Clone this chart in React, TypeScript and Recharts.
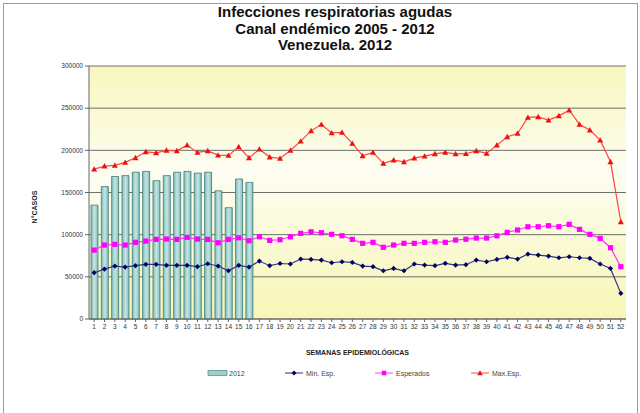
import {
  ComposedChart,
  Bar,
  Line,
  XAxis,
  YAxis,
  CartesianGrid,
} from "recharts";

const weeks = [
  "1", "2", "3", "4", "5", "6", "7", "8", "9", "10", "11", "12", "13",
  "14", "15", "16", "17", "18", "19", "20", "21", "22", "23", "24", "25", "26",
  "27", "28", "29", "30", "31", "32", "33", "34", "35", "36", "37", "38", "39",
  "40", "41", "42", "43", "44", "45", "46", "47", "48", "49", "50", "51", "52",
];

const cases2012 = [
  135000, 157000, 169000, 170000, 174000, 175000, 164000, 170000, 174000, 175000,
  173000, 174000, 152000, 132000, 166000, 162000,
];

const minEsp = [
  54900, 59200, 62800, 61600, 63200, 64800, 64800, 63600, 63600, 63600, 62000, 65500,
  62800, 57200, 63600, 61600, 68700, 63200, 65800, 65200, 71100, 70700, 69900, 66700,
  67900, 67100, 62800, 62000, 57200, 60000, 57200, 65200, 64000, 63200, 66000, 64000,
  64400, 69900, 67900, 70700, 73100, 71100, 77000, 75800, 74600, 72600, 73800, 72600,
  71900, 65200, 60000, 30400,
];

const expected = [
  81700, 87700, 88500, 87700, 90900, 92400, 94400, 94800, 94400, 96800, 94800, 94400,
  90400, 94400, 96300, 92800, 97500, 93200, 94000, 97500, 101500, 103400, 102300, 100400,
  98700, 94400, 89700, 90900, 85000, 87700, 89700, 89700, 90900, 91600, 90900, 93600,
  94600, 96000, 96000, 98700, 102700, 105500, 109400, 109400, 110600, 109400, 112200, 106300,
  100400, 95600, 84500, 62000,
];

const maxEsp = [
  177700, 181300, 182100, 185700, 191100, 198200, 197000, 200000, 199400, 206200, 197500, 199400,
  194300, 194000, 204200, 191100, 201400, 192000, 190400, 199900, 210900, 223100, 230700, 220700,
  221200, 208200, 193500, 197500, 184500, 188400, 186400, 190800, 193100, 195900, 197500, 195900,
  196000, 199400, 196300, 206200, 216000, 220000, 239000, 239700, 235800, 240900, 247600, 230700,
  224000, 212100, 186400, 115300,
];

const yTicks = [0, 50000, 100000, 150000, 200000, 250000, 300000];

const chartData = weeks.map((w, i) => ({
  week: w,
  cases: cases2012[i] ?? null,
  min: minEsp[i],
  exp: expected[i],
  max: maxEsp[i],
}));

const FONT = "Arial, 'Liberation Sans', sans-serif";

const Diamond = (props: any) => {
  const { cx, cy, index } = props;
  if (cx == null || cy == null) return <g key={index} />;
  const r = 2.6;
  return (
    <polygon
      key={index}
      points={`${cx},${cy - r} ${cx + r},${cy} ${cx},${cy + r} ${cx - r},${cy}`}
      fill="#000066"
    />
  );
};

const Square = (props: any) => {
  const { cx, cy, index } = props;
  if (cx == null || cy == null) return <g key={index} />;
  const s = 2.6;
  return <rect key={index} x={cx - s} y={cy - s} width={s * 2} height={s * 2} fill="#ff00ff" />;
};

const Triangle = (props: any) => {
  const { cx, cy, index } = props;
  if (cx == null || cy == null) return <g key={index} />;
  const r = 3;
  return (
    <polygon
      key={index}
      points={`${cx},${cy - r} ${cx + r},${cy + r * 0.8} ${cx - r},${cy + r * 0.8}`}
      fill="#ee1111"
    />
  );
};

function ChartLegend() {
  const item = (x: number, label: string, kind: string) => {
    let swatch;
    if (kind === "bar") {
      swatch = <rect x={x} y={-2.5} width={19} height={5} fill="#9ccfcc" stroke="#4d8a88" strokeWidth={0.7} />;
    } else {
      const color = kind === "min" ? "#2a2a80" : kind === "exp" ? "#ff44ff" : "#ff5050";
      const cx = x + 9;
      swatch = (
        <g>
          <line x1={x} y1={0} x2={x + 18} y2={0} stroke={color} strokeWidth={1} />
          {kind === "min" && <polygon points={`${cx},-2.5 ${cx + 2.5},0 ${cx},2.5 ${cx - 2.5},0`} fill="#000066" />}
          {kind === "exp" && <rect x={cx - 2.3} y={-2.3} width={4.6} height={4.6} fill="#ff00ff" />}
          {kind === "max" && <polygon points={`${cx},-2.8 ${cx + 2.8},2.2 ${cx - 2.8},2.2`} fill="#ee1111" />}
        </g>
      );
    }
    return (
      <g key={label}>
        {swatch}
        <text x={x + 21} y={2.5} fontSize={7} fill="#444" fontFamily={FONT}>
          {label}
        </text>
      </g>
    );
  };
  return (
    <svg width={640} height={14} style={{ display: "block" }}>
      <g transform="translate(0,7)">
        {item(208, "2012", "bar")}
        {item(285, "Min. Esp.", "min")}
        {item(375, "Esperados", "exp")}
        {item(471, "Max.Esp.", "max")}
      </g>
    </svg>
  );
}

export default function App() {
  return (
    <div
      style={{
        position: "absolute",
        left: 0,
        top: 0,
        width: 640,
        height: 413,
        overflow: "hidden",
        background: "#fff",
        fontFamily: FONT,
      }}
    >
      {/* slide frame */}
      <div
        style={{
          position: "absolute",
          left: 3,
          top: 3,
          width: 633,
          height: 430,
          border: "1px solid #9a9a9a",
        }}
      />
      <div
        style={{
          position: "absolute",
          left: 0,
          top: 4,
          width: 670,
          textAlign: "center",
          fontWeight: "bold",
          fontSize: 15,
          lineHeight: "16.5px",
          color: "#111",
        }}
      >
        <div>Infecciones respiratorias agudas</div>
        <div>Canal endémico 2005 - 2012</div>
        <div>Venezuela. 2012</div>
      </div>
      <div style={{ position: "absolute", left: 0, top: 0 }}>
        <ComposedChart
          width={640}
          height={413}
          data={chartData}
          margin={{ top: 66, right: 14, bottom: 64, left: 0 }}
          barCategoryGap={3}
        >
          <defs>
            <linearGradient id="plotBg" x1="0" y1="0" x2="0" y2="1">
              <stop offset="0%" stopColor="#f9f7bd" />
              <stop offset="42%" stopColor="#fdfdf3" />
              <stop offset="100%" stopColor="#f8f6b4" />
            </linearGradient>
            <linearGradient id="barFill" x1="0" y1="0" x2="1" y2="0">
              <stop offset="0%" stopColor="#7fbcb9" />
              <stop offset="50%" stopColor="#c4e6e3" />
              <stop offset="100%" stopColor="#7fbcb9" />
            </linearGradient>
          </defs>
          <CartesianGrid
            vertical={false}
            stroke="#6e6e6e"
            strokeWidth={1}
            fill="url(#plotBg)"
            fillOpacity={1}
          />
          <XAxis
            dataKey="week"
            interval={0}
            height={30}
            tick={{ fontSize: 6.5, fill: "#333", fontFamily: FONT }}
            tickLine={{ stroke: "#666" }}
            tickSize={3}
            axisLine={{ stroke: "#666" }}
            label={{
              value: "SEMANAS EPIDEMIOLÓGICAS",
              position: "insideBottom",
              offset: -6,
              fontSize: 7,
              fontWeight: "bold",
              fill: "#222",
            }}
          />
          <YAxis
            domain={[0, 300000]}
            ticks={yTicks}
            width={89}
            tick={{ fontSize: 6.5, fill: "#333", fontFamily: FONT }}
            tickLine={{ stroke: "#666" }}
            tickSize={4}
            axisLine={{ stroke: "#666" }}
          />
          <YAxis
            yAxisId="frame"
            orientation="right"
            width={0}
            tick={false}
            tickLine={false}
            axisLine={{ stroke: "#c8c8b0" }}
          />
          <Bar
            dataKey="cases"
            name="2012"
            barSize={7}
            fill="url(#barFill)"
            stroke="#3f7a78"
            strokeWidth={0.8}
            isAnimationActive={false}
          />
          <Line
            dataKey="min"
            name="Min. Esp."
            stroke="#33337f"
            strokeWidth={1.2}
            dot={Diamond}
            activeDot={false}
            isAnimationActive={false}
          />
          <Line
            dataKey="exp"
            name="Esperados"
            stroke="#ff33ff"
            strokeWidth={1.2}
            dot={Square}
            activeDot={false}
            isAnimationActive={false}
          />
          <Line
            dataKey="max"
            name="Max.Esp."
            stroke="#ff4444"
            strokeWidth={1.2}
            dot={Triangle}
            activeDot={false}
            isAnimationActive={false}
          />
        </ComposedChart>
      </div>
      {/* y axis title sits lower than the plot centre in the original */}
      <svg width={20} height={60} style={{ position: "absolute", left: 24, top: 177 }}>
        <text
          x={10}
          y={30}
          transform="rotate(-90 10 30)"
          textAnchor="middle"
          dominantBaseline="central"
          fontSize={7}
          fontWeight="bold"
          fill="#222"
          fontFamily={FONT}
        >
          N°CASOS
        </text>
      </svg>
      <div style={{ position: "absolute", left: 0, top: 366 }}>
        <ChartLegend />
      </div>
    </div>
  );
}
